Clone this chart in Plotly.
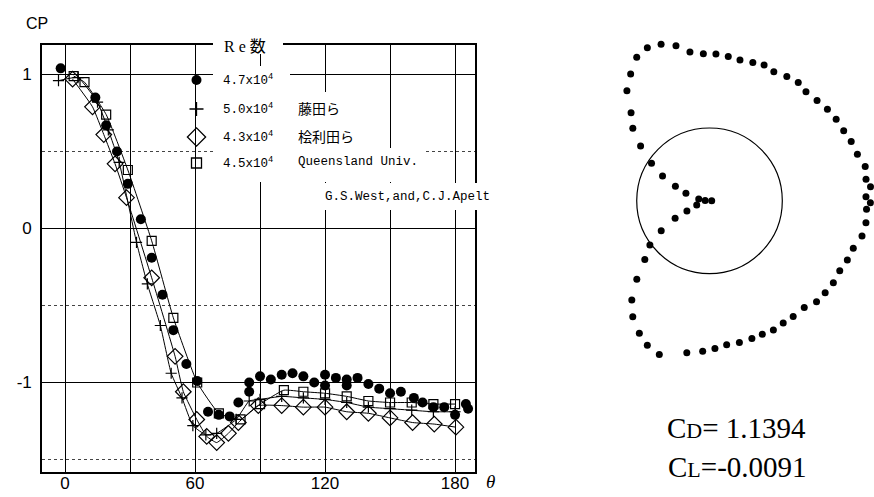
import numpy as np
import plotly.graph_objects as go

W, H = 874, 497

# ---------------- data (left chart: Cp vs theta) ----------------
theta_fill = [-2, 14, 19, 24, 29, 35, 40, 45, 50, 56, 61, 66, 71, 76, 80, 85, 85, 90, 95, 100,
              105, 110, 115, 120, 120, 125, 130, 130, 135, 140, 145, 150, 155, 161, 165, 170,
              175, 180, 185, 186]
cp_fill = [1.04, 0.85, 0.67, 0.50, 0.29, 0.06, -0.19, -0.43, -0.66, -0.88, -0.99, -1.19, -1.21,
           -1.22, -1.13, -1.00, -1.06, -0.96, -0.98, -0.95, -0.94, -0.96, -1.00, -0.95, -1.02,
           -0.97, -0.98, -1.02, -0.97, -1.01, -1.04, -1.07, -1.06, -1.10, -1.13, -1.16, -1.16,
           -1.21, -1.14, -1.17]

theta_plus = [-3, 6, 15, 20, 25, 33, 38, 44, 49, 54, 59, 65, 70, 79, 85, 90, 100, 110, 120,
              130, 140, 150, 160, 170, 180]
cp_plus = [0.96, 0.98, 0.82, 0.64, 0.43, -0.09, -0.36, -0.63, -0.94, -1.10, -1.28, -1.34, -1.33,
           -1.24, -1.12, -1.11, -1.09, -1.10, -1.11, -1.13, -1.16, -1.17, -1.18, -1.19, -1.19]

theta_dia = [3.5, 12.7, 17.9, 23.1, 28.4, 40, 50.8, 54.6, 60.8, 65.4, 70, 75.4, 80, 89.2, 100,
             110, 120, 130, 140, 150, 160.4, 170.4, 180.4]
cp_dia = [0.97, 0.79, 0.61, 0.42, 0.20, -0.32, -0.83, -1.06, -1.24, -1.35, -1.39, -1.33, -1.26,
          -1.15, -1.15, -1.16, -1.16, -1.19, -1.20, -1.23, -1.26, -1.27, -1.29]

theta_sq = [4, 9, 19, 29, 40, 50, 61, 71, 81, 90, 101, 110, 120, 130, 140, 150, 160, 170, 180]
cp_sq = [0.99, 0.95, 0.74, 0.38, -0.08, -0.58, -1.00, -1.20, -1.24, -1.14, -1.05, -1.06, -1.07,
         -1.09, -1.12, -1.13, -1.13, -1.14, -1.14]

x_tick_vals = [0, 30, 60, 90, 120, 150, 180]
x_tick_text = ["0", " ", "60", " ", "120", " ", "180"]
y_tick_vals = [-1, 0, 1]
y_tick_text = ["-1", "0", "1"]
y_minor_vals = [-1.5, -0.5, 0.5]

legend_re = ["4.7x10<sup>4</sup>", "5.0x10<sup>4</sup>", "4.3x10<sup>4</sup>", "4.5x10<sup>4</sup>"]
legend_src = ["", "藤田ら", "桧利田ら", "Queensland Univ."]

# ---------------- data (right chart: polar Cp distribution) ----------------
theta_pol = [0, 3, 9, 17.7, 23.2, 27.9, 33, 38.5, 43.4, 48.3,
             53.1, 58.1, 63.1, 67.9, 72.8, 77.8, 82.5, 87.6, 92.5, 97.4,
             102.2, 107.4, 111.9, 116.5, 121.9, 126.9, 131.5, 137, 142.2, 147.2,
             152.4, 157.3, 162.5, 167.6, 172.2, 175, 178.5, 180.7, 183.1, 188,
             193, 198.3, 203.2, 208.2, 213.5, 218.5, 223.3, 228.4, 234.1, 238.9,
             243.7, 248.4, 252.9, 258.1, 263.2, 267.9, 272.6, 278.5, 288.1, 293.3,
             297.9, 303.5, 308.1, 312.8, 317.8, 323.4, 328.3, 333.1, 335.9, 341.8]
cp_pol = [1.03, 0.94, 0.85, 0.66, 0.49, 0.27, 0.05, -0.21, -0.45, -0.62,
          -0.89, -1.05, -1.21, -1.27, -1.25, -1.18, -1.06, -1.02, -1.02, -1.00,
          -0.98, -0.99, -1.01, -0.98, -1.01, -1.03, -1.00, -1.02, -1.05, -1.07,
          -1.08, -1.11, -1.13, -1.19, -1.17, -1.22, -1.15, -1.21, -1.16, -1.17,
          -1.15, -1.08, -1.06, -1.03, -1.04, -1.03, -1.02, -0.96, -0.96, -0.96,
          -0.98, -0.97, -0.98, -0.99, -0.99, -1.03, -1.07, -1.11, -1.22, -1.16,
          -1.06, -0.91, -0.73, -0.47, -0.20, -0.02, 0.22, 0.47, 0.66, 0.815]
cd_value = "1.1394"
cl_value = "-0.0091"


def fx(px):
    return px / W


def fy(py):
    return 1 - py / H


fig = go.Figure()

BLACK = "black"
line_style = dict(color=BLACK, width=1, shape="spline", smoothing=0.4)

fig.add_trace(go.Scatter(x=theta_plus, y=cp_plus, mode="lines+markers", line=line_style,
                         marker=dict(symbol="cross-thin-open", size=8, color=BLACK,
                                     line=dict(color=BLACK, width=1.2)),
                         xaxis="x", yaxis="y", showlegend=False))
fig.add_trace(go.Scatter(x=theta_dia, y=cp_dia, mode="lines+markers", line=line_style,
                         marker=dict(symbol="diamond-open", size=12, color=BLACK,
                                     line=dict(color=BLACK, width=1.2)),
                         xaxis="x", yaxis="y", showlegend=False))
fig.add_trace(go.Scatter(x=theta_sq, y=cp_sq, mode="lines+markers", line=line_style,
                         marker=dict(symbol="square-open", size=9, color=BLACK,
                                     line=dict(color=BLACK, width=1.2)),
                         xaxis="x", yaxis="y", showlegend=False))
fig.add_trace(go.Scatter(x=theta_fill, y=cp_fill, mode="markers",
                         marker=dict(symbol="circle", size=10, color=BLACK),
                         xaxis="x", yaxis="y", showlegend=False))

# polar-style distribution: radius = 1 - Cp, angle measured from the front (left)
th = np.radians(np.array(theta_pol))
rr = 1 - np.array(cp_pol)
fig.add_trace(go.Scatter(x=-rr * np.cos(th), y=rr * np.sin(th), mode="markers",
                         marker=dict(symbol="circle", size=7, color=BLACK),
                         cliponaxis=False, xaxis="x2", yaxis="y2", showlegend=False))

# legend markers (separate full-page subplot in pixel coordinates)
leg_rows_y = [80, 109, 137, 163]
leg_markers = [
    dict(symbol="circle", size=10, color=BLACK),
    dict(symbol="cross-thin-open", size=10, color=BLACK, line=dict(color=BLACK, width=1.3)),
    dict(symbol="diamond-open", size=14, color=BLACK, line=dict(color=BLACK, width=1.3)),
    dict(symbol="square-open", size=10, color=BLACK, line=dict(color=BLACK, width=1.3)),
]
for i, m in enumerate(leg_markers):
    fig.add_trace(go.Scatter(x=[196.5], y=[leg_rows_y[i]], mode="markers", marker=m,
                             xaxis="x3", yaxis="y3", showlegend=False, cliponaxis=False,
                             hoverinfo="skip"))

# ---------------- axes ----------------
x_left, x_right, y_top, y_bot = 42, 475, 45, 472
x0_px, px_per_deg = 65, 2.167
y0_px, px_per_cp = 228.5, 154

fig.update_layout(
    width=W, height=H, autosize=False,
    margin=dict(l=0, r=0, t=0, b=0, pad=0),
    paper_bgcolor="white", plot_bgcolor="rgba(0,0,0,0)",
    font=dict(family="Liberation Sans", color=BLACK),
    xaxis=dict(domain=[fx(x_left), fx(x_right)],
               range=[(x_left - x0_px) / px_per_deg, (x_right - x0_px) / px_per_deg],
               tickmode="array", tickvals=x_tick_vals, ticktext=x_tick_text,
               showgrid=True, gridcolor=BLACK, gridwidth=1, zeroline=False,
               showline=True, linecolor=BLACK, linewidth=1.6, mirror=True,
               ticks="", ticklabelstandoff=-5, automargin=False,
               tickfont=dict(family="Liberation Sans", size=17, color=BLACK)),
    yaxis=dict(domain=[fy(y_bot), fy(y_top)],
               range=[(y0_px - y_bot) / px_per_cp, (y0_px - y_top) / px_per_cp],
               tickmode="array", tickvals=y_tick_vals, ticktext=y_tick_text,
               showgrid=True, gridcolor=BLACK, gridwidth=1, zeroline=False,
               showline=True, linecolor=BLACK, linewidth=1.6, mirror=True,
               ticks="", ticklabelstandoff=5, automargin=False,
               tickfont=dict(family="Liberation Sans", size=17, color=BLACK),
               minor=dict(tickmode="array", tickvals=y_minor_vals, showgrid=True,
                          gridcolor="#444", griddash="dot", gridwidth=1, ticks="")),
    xaxis2=dict(domain=[fx(607.6), fx(873.3)], range=[-1.4, 2.25], visible=False),
    yaxis2=dict(domain=[fy(368.24), fy(33.36)], range=[-2.3, 2.3], visible=False),
    xaxis3=dict(domain=[0, 1], range=[0, W], visible=False),
    yaxis3=dict(domain=[0, 1], range=[H, 0], visible=False),
)

# ---------------- shapes ----------------
shapes = [
    dict(type="circle", xref="x2", yref="y2", x0=-1, x1=1, y0=-1, y1=1,
         line=dict(color=BLACK, width=1.2)),
]
white_boxes = [
    (213, 34, 283, 54),    # legend title on top border
    (213, 66, 290, 182),   # Re values column
    (290, 92, 366, 182),   # author names
    (290, 148, 423, 182),  # Queensland Univ.
    (321, 183, 496, 210),  # G.S.West ...
]
for (a, b, c, d) in white_boxes:
    shapes.append(dict(type="rect", xref="paper", yref="paper",
                       x0=fx(a), x1=fx(c), y0=fy(d), y1=fy(b),
                       fillcolor="white", line=dict(width=0), layer="above"))
fig.update_layout(shapes=shapes)

# ---------------- annotations ----------------
ann = []


def add_text(px, py, text, font, xanchor="center"):
    ann.append(dict(x=fx(px), y=fy(py), xref="paper", yref="paper", text=text,
                    xanchor=xanchor, yanchor="middle", showarrow=False, font=font))


mono = dict(family="Liberation Mono", size=12.5, color=BLACK)
cjk = dict(family="Noto Sans CJK JP", size=14, color=BLACK)
add_text(245, 47, "R e 数", dict(family="Liberation Serif, Noto Sans CJK JP", size=16, color=BLACK))
for i, t in enumerate(legend_re):
    add_text(221, leg_rows_y[i], t, mono, "left")
for i, t in enumerate(legend_src):
    if not t:
        continue
    add_text(296, leg_rows_y[i] - 1, t, mono if t.isascii() else cjk, "left")
add_text(323, 197, "G.S.West,and,C.J.Apelt", mono, "left")
add_text(24, 24, "CP", dict(family="Liberation Sans", size=16, color=BLACK), "left")
add_text(490, 481, "<i>θ</i>", dict(family="Liberation Serif", size=19, color=BLACK))
serif = dict(family="Liberation Serif", size=29, color=BLACK)
add_text(736, 428, 'C<span style="font-size:22px">D</span>= ' + cd_value, serif)
add_text(737, 467, 'C<span style="font-size:22px">L</span>=' + cl_value, serif)
fig.update_layout(annotations=ann)

fig.write_html("out.html", config={"displayModeBar": False},
               post_script="document.body.style.margin='0';document.body.style.overflow='hidden';")
